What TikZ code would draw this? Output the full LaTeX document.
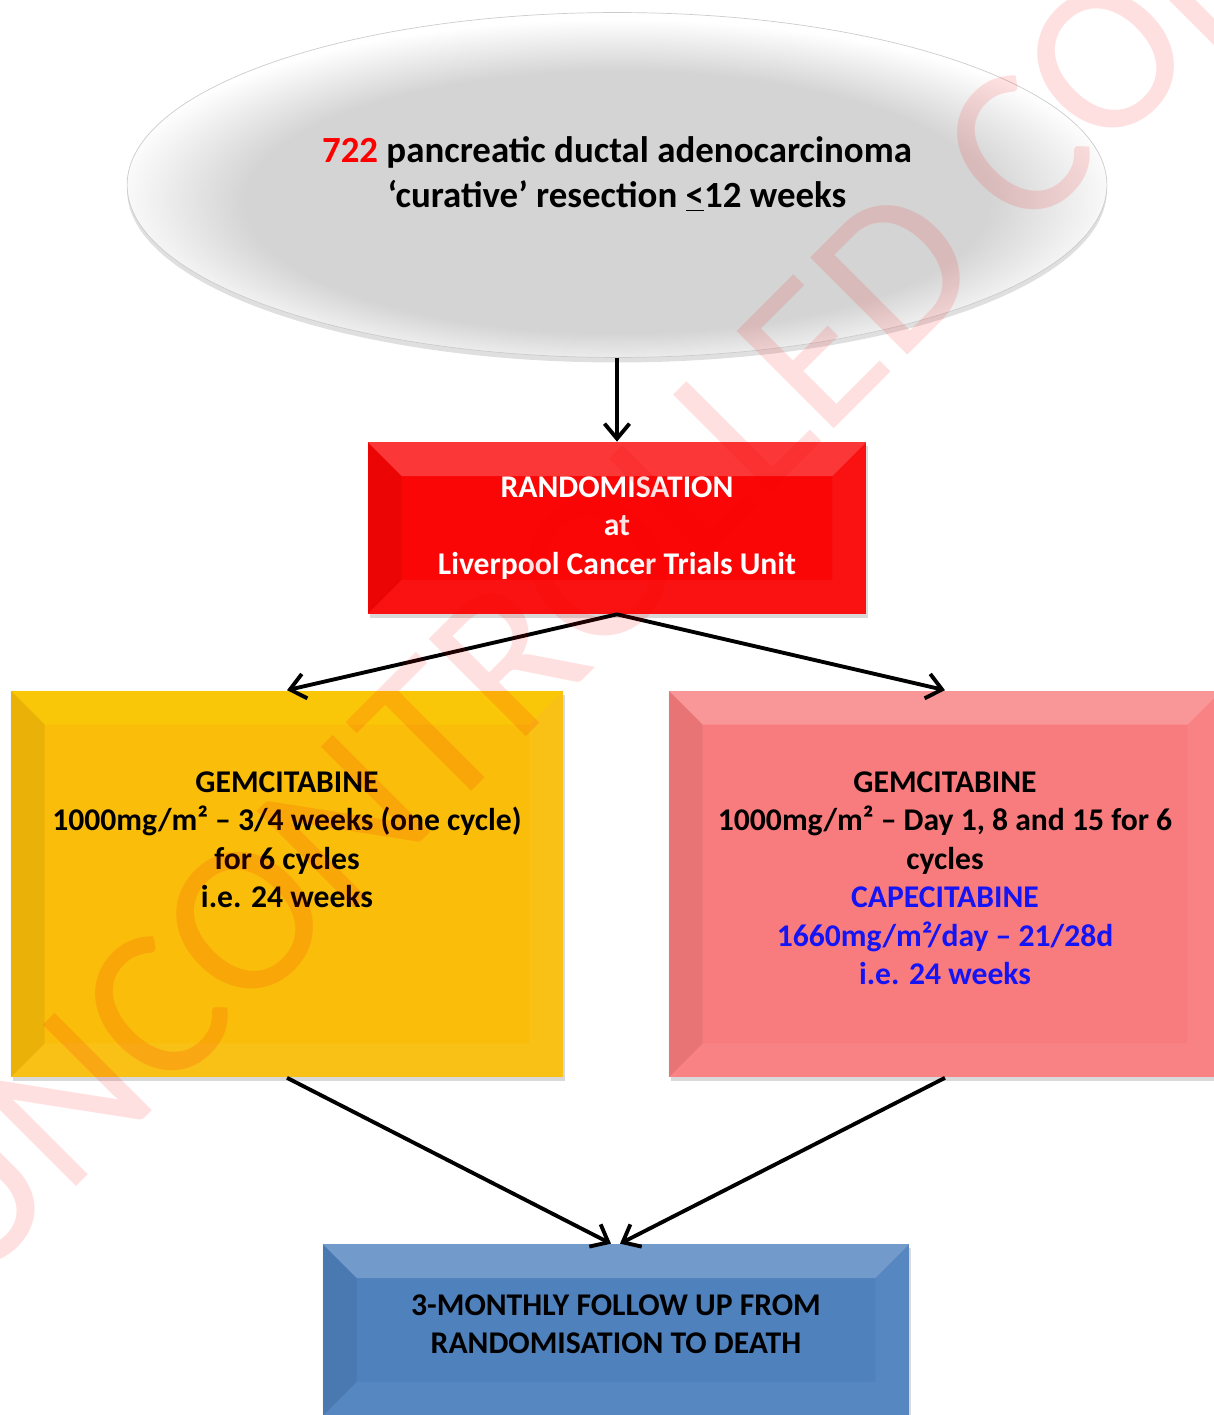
\documentclass[tikz,border=0pt]{standalone}
\usepackage{fontspec}
\setmainfont{Carlito}
\usepackage{tikz}
\usetikzlibrary{positioning,shapes.geometric,shadows,arrows.meta}
\usepackage{xcolor}

\definecolor{ovalgray}{RGB}{212,212,212}
\definecolor{randred}{RGB}{250,6,6}
\definecolor{gemgold}{RGB}{249,189,10}
\definecolor{capred}{RGB}{248,124,126}
\definecolor{fupblue}{RGB}{79,129,189}
\definecolor{capblue}{RGB}{20,20,245}

\pgfdeclareradialshading{ovalshade}{\pgfpoint{0bp}{-4bp}}{color(0bp)=(ovalgray); color(19bp)=(ovalgray); color(26bp)=(white); color(50bp)=(white)}

\newcommand{\bevw}{0.68cm}

\tikzset{
  bevel/.style={path picture={
      \coordinate (pnw) at (path picture bounding box.north west);
      \coordinate (pne) at (path picture bounding box.north east);
      \coordinate (psw) at (path picture bounding box.south west);
      \coordinate (pse) at (path picture bounding box.south east);
      \fill[#1,opacity=.2] (pnw) -- (pne) -- ([shift={(-\bevw,-\bevw)}]pne) -- ([shift={(\bevw,-\bevw)}]pnw) -- cycle;
      \fill[black,opacity=.06] (pnw) -- ([shift={(\bevw,-\bevw)}]pnw) -- ([shift={(\bevw,\bevw)}]psw) -- (psw) -- cycle;
      \fill[white,opacity=.05] (psw) -- (pse) -- ([shift={(-\bevw,\bevw)}]pse) -- ([shift={(\bevw,\bevw)}]psw) -- cycle;
      \fill[white,opacity=.05] (pne) -- ([shift={(-\bevw,-\bevw)}]pne) -- ([shift={(-\bevw,\bevw)}]pse) -- (pse) -- cycle;
    }},
  bevel/.default=white,
  box/.style={rectangle, inner sep=0pt, align=center,
    font=\fontsize{18}{21.9}\selectfont\bfseries,
    drop shadow={opacity=.3, shadow xshift=.04cm, shadow yshift=-.08cm}},
  oval/.style={ellipse, inner sep=0pt, align=center, shading=ovalshade,
    draw=black!20, thin, minimum width=19.6cm, minimum height=6.9cm,
    font=\fontsize{21}{25.6}\selectfont\bfseries,
    drop shadow={opacity=.25, shadow xshift=0cm, shadow yshift=-.1cm}},
  flow/.style={line width=2.2pt, -{Straight Barb[length=3mm,width=5mm]}},
  watermark/.style={text=red, text opacity=.12, font=\fontsize{122}{122}\selectfont}
}

\begin{document}
\begin{tikzpicture}[x=0.02cm,y=0.02cm]
  \useasboundingbox (0,0) rectangle (1213,-1415);

  % patients
  \node[oval, text depth=.5cm] (pat) at (617,-185) {\textcolor{red}{722} pancreatic ductal adenocarcinoma\\ ‘curative’ resection \underline{<}12 weeks};

  % randomisation
  \node[box, bevel, fill=randred, text=white, minimum width=9.98cm, minimum height=3.44cm] (rand) at (617,-528) {RANDOMISATION\\ at\\ Liverpool Cancer Trials Unit};

  % the two arms
  \node[box, bevel=yellow, fill=gemgold, minimum width=11.06cm, minimum height=7.74cm] (gem) at (287,-884) {GEMCITABINE\\ 1000mg/m² – 3/4 weeks (one cycle)\\ for 6 cycles\\ i.e. 24 weeks\\ \strut\\ \strut};
  \node[box, bevel, fill=capred, minimum width=11.06cm, minimum height=7.74cm] (gemcap) at (945,-884) {GEMCITABINE\\ 1000mg/m² – Day 1, 8 and 15 for 6\\ cycles\\ \textcolor{capblue}{CAPECITABINE}\\ \textcolor{capblue}{1660mg/m²/day – 21/28d}\\ \textcolor{capblue}{i.e. 24 weeks}\strut};

  % follow up
  \node[box, bevel, fill=fupblue, minimum width=11.74cm, minimum height=3.44cm] (fup) at (616,-1330) {3-MONTHLY FOLLOW UP FROM\\ RANDOMISATION TO DEATH\strut};

  \draw[flow] (pat) -- (rand);
  \draw[flow] (rand.south) -- (gem.north);
  \draw[flow] (rand.south) -- (gemcap.north);
  \draw[flow] (gem.south) -- ([xshift=-.1cm]fup.north);
  \draw[flow] (gemcap.south) -- ([xshift=.08cm]fup.north);

  % stamp
  \node[watermark, rotate=45] (wm) at (614,-552) {UNCONTROLLED COPY};
\end{tikzpicture}
\end{document}
